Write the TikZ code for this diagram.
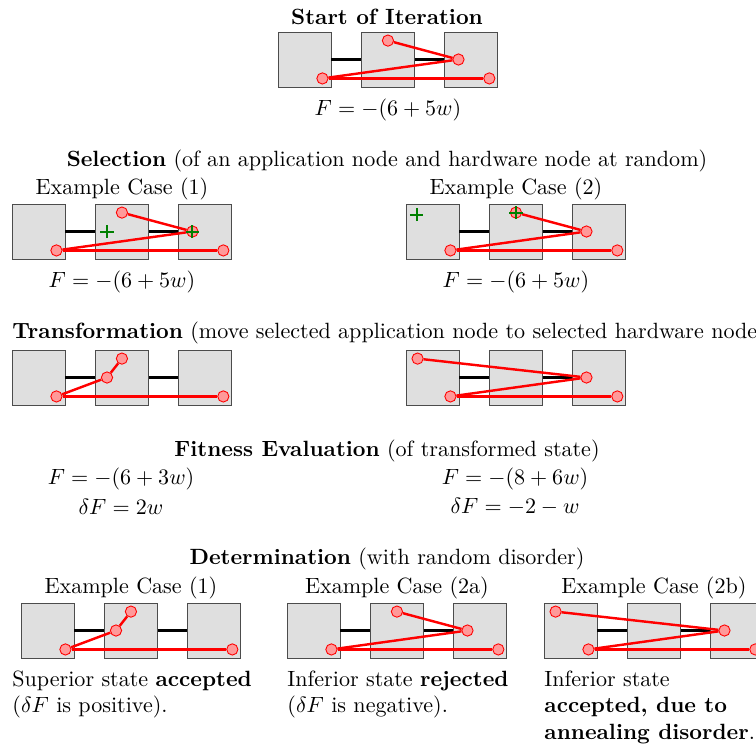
\documentclass[tikz,border=0pt]{standalone}
\usepackage{amsmath,amssymb}
\usepackage{xcolor}
\usepackage{tikz}
\usetikzlibrary{positioning,calc}

\begin{document}
\begin{tikzpicture}[
    x=0.453pt, y=-0.453pt,
    hw/.style={draw=black!70, fill=gray!25, minimum width=24pt, minimum height=24.9pt, inner sep=0pt},
    app/.style={circle, draw=red, fill=red!40, minimum size=5.1pt, inner sep=0pt},
    link/.style={line width=1.2pt, draw=black},
    appedge/.style={line width=1.1pt, draw=red},
    selmark/.style={draw=green!50!black, line width=0.9pt},
    lbl/.style={inner sep=0pt, align=center},
    note/.style={inner sep=0pt, align=left, anchor=north west}
]
\useasboundingbox (0,0) rectangle (756,744);

% ===== START OF ITERATION =====
\node[lbl] (tStart) at (387,17) {\textbf{Start of Iteration}};
\node[hw] (s1) at (304.5,59.5) {};
\node[hw, right=13.4pt of s1] (s2) {};
\node[hw, right=13.4pt of s2] (s3) {};
\draw[link] (s1) -- (s2) (s2) -- (s3);
\node[app] (sTop) at ([shift={(0,9)}]s2.north) {};
\node[app] (sMid) at ([shift={(14,0)}]s3.west) {};
\node[app] (sBotA) at ([shift={(-9,-9)}]s1.south east) {};
\node[app] (sBotB) at ([shift={(-9,-9)}]s3.south east) {};
\draw[appedge] (sTop) -- (sMid);
\draw[appedge] (sBotA) -- (sMid);
\draw[appedge] (sBotA) -- (sBotB);
\node[lbl, below=5pt of s2] (fStart) {$F=-(6+5w)$};

% ===== SELECTION =====
\node[lbl] (tSel) at (387,161) {\textbf{Selection} (of an application node and hardware node at random)};

% case (1)
\node[hw] (a1) at (38.5,231.5) {};
\node[hw, right=13.4pt of a1] (a2) {};
\node[hw, right=13.4pt of a2] (a3) {};
\draw[link] (a1) -- (a2) (a2) -- (a3);
\node[app] (aTop) at ([shift={(0,9)}]a2.north) {};
\node[app] (aMid) at ([shift={(14,0)}]a3.west) {};
\node[app] (aBotA) at ([shift={(-9,-9)}]a1.south east) {};
\node[app] (aBotB) at ([shift={(-9,-9)}]a3.south east) {};
\draw[appedge] (aTop) -- (aMid);
\draw[appedge] (aBotA) -- (aMid);
\draw[appedge] (aBotA) -- (aBotB);
\coordinate (aSel) at ([shift={(12,0)}]a2.west);
\draw[selmark] (aSel) +(-3pt,0) -- +(3pt,0) +(0,-3pt) -- +(0,3pt);
\draw[selmark] (aMid) +(-3pt,0) -- +(3pt,0) +(0,-3pt) -- +(0,3pt);
\node[lbl, above=1.5pt of a2] (capA) {Example Case (1)};
\node[lbl, below=5pt of a2] (fA) {$F=-(6+5w)$};

% case (2)
\node[hw] (b1) at (432.5,231.5) {};
\node[hw, right=13.4pt of b1] (b2) {};
\node[hw, right=13.4pt of b2] (b3) {};
\draw[link] (b1) -- (b2) (b2) -- (b3);
\node[app] (bTop) at ([shift={(0,9)}]b2.north) {};
\node[app] (bMid) at ([shift={(14,0)}]b3.west) {};
\node[app] (bBotA) at ([shift={(-9,-9)}]b1.south east) {};
\node[app] (bBotB) at ([shift={(-9,-9)}]b3.south east) {};
\draw[appedge] (bTop) -- (bMid);
\draw[appedge] (bBotA) -- (bMid);
\draw[appedge] (bBotA) -- (bBotB);
\coordinate (bSel) at ([shift={(11,11)}]b1.north west);
\draw[selmark] (bSel) +(-3pt,0) -- +(3pt,0) +(0,-3pt) -- +(0,3pt);
\draw[selmark] (bTop) +(-3pt,0) -- +(3pt,0) +(0,-3pt) -- +(0,3pt);
\node[lbl, above=1.5pt of b2] (capB) {Example Case (2)};
\node[lbl, below=5pt of b2] (fB) {$F=-(6+5w)$};

% ===== TRANSFORMATION =====
\node[lbl, anchor=west] (tTrans) at (12,333) {\textbf{Transformation} (move selected application node to selected hardware node)};

% case (1)
\node[hw] (c1) at (38.5,377.5) {};
\node[hw, right=13.4pt of c1] (c2) {};
\node[hw, right=13.4pt of c2] (c3) {};
\draw[link] (c1) -- (c2) (c2) -- (c3);
\node[app] (cTop) at ([shift={(0,9)}]c2.north) {};
\node[app] (cMid) at ([shift={(12,0)}]c2.west) {};
\node[app] (cBotA) at ([shift={(-9,-9)}]c1.south east) {};
\node[app] (cBotB) at ([shift={(-9,-9)}]c3.south east) {};
\draw[appedge] (cTop) -- (cMid);
\draw[appedge] (cBotA) -- (cMid);
\draw[appedge] (cBotA) -- (cBotB);

% case (2)
\node[hw] (d1) at (432.5,377.5) {};
\node[hw, right=13.4pt of d1] (d2) {};
\node[hw, right=13.4pt of d2] (d3) {};
\draw[link] (d1) -- (d2) (d2) -- (d3);
\node[app] (dTop) at ([shift={(12,9)}]d1.north west) {};
\node[app] (dMid) at ([shift={(14,0)}]d3.west) {};
\node[app] (dBotA) at ([shift={(-9,-9)}]d1.south east) {};
\node[app] (dBotB) at ([shift={(-9,-9)}]d3.south east) {};
\draw[appedge] (dTop) -- (dMid);
\draw[appedge] (dBotA) -- (dMid);
\draw[appedge] (dBotA) -- (dBotB);

% ===== FITNESS EVALUATION =====
\node[lbl] (tFit) at (387,451) {\textbf{Fitness Evaluation} (of transformed state)};
\node[lbl] (fitA) at (121,479) {$F=-(6+3w)$};
\node[lbl] (dfA) at (121,507) {$\delta F=2w$};
\node[lbl] (fitB) at (515,479) {$F=-(8+6w)$};
\node[lbl] (dfB) at (515,507) {$\delta F=-2-w$};

% ===== DETERMINATION =====
\node[lbl] (tDet) at (387,559) {\textbf{Determination} (with random disorder)};

% case (1)
\node[hw] (e1) at (47.5,630.5) {};
\node[hw, right=13.4pt of e1] (e2) {};
\node[hw, right=13.4pt of e2] (e3) {};
\draw[link] (e1) -- (e2) (e2) -- (e3);
\node[app] (eTop) at ([shift={(0,9)}]e2.north) {};
\node[app] (eMid) at ([shift={(12,0)}]e2.west) {};
\node[app] (eBotA) at ([shift={(-9,-9)}]e1.south east) {};
\node[app] (eBotB) at ([shift={(-9,-9)}]e3.south east) {};
\draw[appedge] (eTop) -- (eMid);
\draw[appedge] (eBotA) -- (eMid);
\draw[appedge] (eBotA) -- (eBotB);
\node[lbl, above=1.5pt of e2] (capE) {Example Case (1)};
\node[note] (nE) at (12,670) {Superior state \textbf{accepted}\\($\delta F$ is positive).};

% case (2a)
\node[hw] (g1) at (313.5,630.5) {};
\node[hw, right=13.4pt of g1] (g2) {};
\node[hw, right=13.4pt of g2] (g3) {};
\draw[link] (g1) -- (g2) (g2) -- (g3);
\node[app] (gTop) at ([shift={(0,9)}]g2.north) {};
\node[app] (gMid) at ([shift={(14,0)}]g3.west) {};
\node[app] (gBotA) at ([shift={(-9,-9)}]g1.south east) {};
\node[app] (gBotB) at ([shift={(-9,-9)}]g3.south east) {};
\draw[appedge] (gTop) -- (gMid);
\draw[appedge] (gBotA) -- (gMid);
\draw[appedge] (gBotA) -- (gBotB);
\node[lbl, above=1.5pt of g2] (capG) {Example Case (2a)};
\node[note] (nG) at (287,670) {Inferior state \textbf{rejected}\\($\delta F$ is negative).};

% case (2b)
\node[hw] (k1) at (570.5,630.5) {};
\node[hw, right=13.4pt of k1] (k2) {};
\node[hw, right=13.4pt of k2] (k3) {};
\draw[link] (k1) -- (k2) (k2) -- (k3);
\node[app] (kTop) at ([shift={(12,9)}]k1.north west) {};
\node[app] (kMid) at ([shift={(14,0)}]k3.west) {};
\node[app] (kBotA) at ([shift={(-9,-9)}]k1.south east) {};
\node[app] (kBotB) at ([shift={(-9,-9)}]k3.south east) {};
\draw[appedge] (kTop) -- (kMid);
\draw[appedge] (kBotA) -- (kMid);
\draw[appedge] (kBotA) -- (kBotB);
\node[lbl, above=1.5pt of k2] (capK) {Example Case (2b)};
\node[note] (nK) at (544,670) {Inferior state\\\textbf{accepted, due to}\\\textbf{annealing disorder}.};

\end{tikzpicture}
\end{document}
